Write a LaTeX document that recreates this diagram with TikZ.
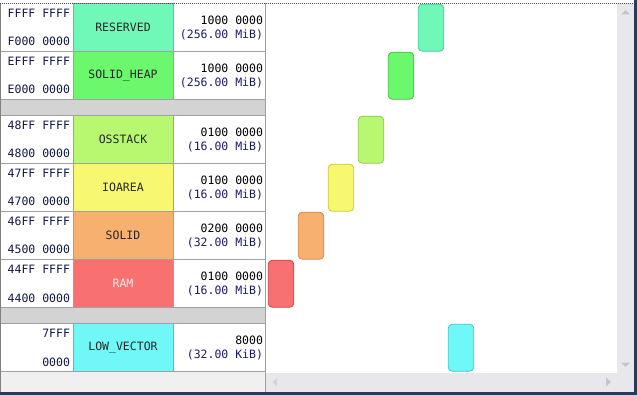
\documentclass[tikz,border=0pt]{standalone}
\usepackage{fontspec}
\setmonofont{DejaVu Sans Mono}
\definecolor{addrc}{HTML}{14184A}
\definecolor{sizec}{HTML}{1C1C66}
\definecolor{gridc}{HTML}{A0A0A0}
\definecolor{bandc}{HTML}{D3D3D3}
\definecolor{botc}{HTML}{F0F0F0}
\definecolor{sbc}{HTML}{E8E8EC}
\definecolor{arrc}{HTML}{C4C4CC}
\definecolor{arrd}{HTML}{D4D4DA}
\definecolor{navyc}{HTML}{2B3A5A}
\definecolor{resF}{HTML}{70F8B8}\definecolor{resD}{HTML}{48C890}
\definecolor{heapF}{HTML}{6CF86C}\definecolor{heapD}{HTML}{40C040}
\definecolor{ossF}{HTML}{B8F870}\definecolor{ossD}{HTML}{90C850}
\definecolor{ioF}{HTML}{F8F870}\definecolor{ioD}{HTML}{C8C840}
\definecolor{solF}{HTML}{F8B070}\definecolor{solD}{HTML}{D08848}
\definecolor{ramF}{HTML}{F87070}\definecolor{ramD}{HTML}{C84848}
\definecolor{lowF}{HTML}{70F8F8}\definecolor{lowD}{HTML}{40C8C8}
\begin{document}
\begin{tikzpicture}[x=1pt,y=-1pt,
  every node/.style={inner sep=0pt,outer sep=0pt,font=\fontsize{11.5}{12}\selectfont\ttfamily},
  addr/.style={anchor=base east,text=addrc},
  szone/.style={anchor=base east,text=black},
  sztwo/.style={anchor=base east,text=sizec},
  namecell/.style={minimum width=100pt,minimum height=48pt,line width=0.8pt,text=black!85},
  bar/.style={minimum width=25.5pt,minimum height=47pt,rounded corners=4pt,line width=0.8pt},
  grid/.style={draw=gridc,line width=0.8pt}
]
\useasboundingbox (0,0) rectangle (637,395);
\fill[white] (0,0) rectangle (637,395);
% bottom areas and scrollbars
\fill[botc] (0,372) rectangle (266,392);
\fill[sbc] (266,373) rectangle (634,392);
\fill[sbc] (617,3) rectangle (634,392);
% gray bands
\fill[bandc] (0,99.5) rectangle (265,115.5);
\fill[bandc] (0,307.5) rectangle (265,323.5);
% name cells
\node[namecell,fill=resF,draw=resD] (nres) at (123,27.5) {RESERVED};
\node[namecell,fill=heapF,draw=heapD] (nheap) at (123,75.5) {SOLID\_HEAP};
\node[namecell,fill=ossF,draw=ossD] (noss) at (123,139.5) {OSSTACK};
\node[namecell,fill=ioF,draw=ioD] (nio) at (123,187.5) {IOAREA};
\node[namecell,fill=solF,draw=solD] (nsol) at (123,235.5) {SOLID};
\node[namecell,fill=ramF,draw=ramD,text=white!92!red] (nram) at (123,283.5) {RAM};
\node[namecell,fill=lowF,draw=lowD] (nlow) at (123,347.5) {LOW\_VECTOR};
% grid lines
\foreach \yy in {51.5,99.5,115.5,163.5,211.5,259.5,307.5,323.5,371.5}
  \draw[grid] (0,\yy) -- (265,\yy);
\draw[grid] (73,3.5) -- (73,99.5) (73,115.5) -- (73,307.5) (73,323.5) -- (73,371.5);
\draw[grid] (173,3.5) -- (173,99.5) (173,115.5) -- (173,307.5) (173,323.5) -- (173,371.5);
\draw[grid] (265,3) -- (265,392);
\draw[draw=gray,line width=1pt] (0.5,3) -- (0.5,392);
% top focus dashed line
\draw[black!70,line width=0.8pt,dash pattern=on 1pt off 1pt] (0,3) -- (633,3);
% addresses
\node[addr] (a1t) at (70,17.5) {FFFF FFFF};
\node[addr] (a1b) at (70,46) {F000 0000};
\node[addr] (a2t) at (70,65.5) {EFFF FFFF};
\node[addr] (a2b) at (70,94) {E000 0000};
\node[addr] (a3t) at (70,129.5) {48FF FFFF};
\node[addr] (a3b) at (70,158) {4800 0000};
\node[addr] (a4t) at (70,177.5) {47FF FFFF};
\node[addr] (a4b) at (70,206) {4700 0000};
\node[addr] (a5t) at (70,225.5) {46FF FFFF};
\node[addr] (a5b) at (70,254) {4500 0000};
\node[addr] (a6t) at (70,273.5) {44FF FFFF};
\node[addr] (a6b) at (70,302) {4400 0000};
\node[addr] (a7t) at (70,337.5) {7FFF};
\node[addr] (a7b) at (70,366) {0000};
% sizes
\node[szone] (s1a) at (263,24.5) {1000 0000};
\node[sztwo] (s1b) at (263,38.5) {(256.00 MiB)};
\node[szone] (s2a) at (263,72.5) {1000 0000};
\node[sztwo] (s2b) at (263,86.5) {(256.00 MiB)};
\node[szone] (s3a) at (263,136.5) {0100 0000};
\node[sztwo] (s3b) at (263,150.5) {(16.00 MiB)};
\node[szone] (s4a) at (263,184.5) {0100 0000};
\node[sztwo] (s4b) at (263,198.5) {(16.00 MiB)};
\node[szone] (s5a) at (263,232.5) {0200 0000};
\node[sztwo] (s5b) at (263,246.5) {(32.00 MiB)};
\node[szone] (s6a) at (263,280.5) {0100 0000};
\node[sztwo] (s6b) at (263,294.5) {(16.00 MiB)};
\node[szone] (s7a) at (263,344.5) {8000};
\node[sztwo] (s7b) at (263,358.5) {(32.00 KiB)};
% bars
\node[bar,fill=resF,draw=resD] (bres) at (431,27.75) {};
\node[bar,fill=heapF,draw=heapD] (bheap) at (401,75.75) {};
\node[bar,fill=ossF,draw=ossD] (boss) at (371,139.75) {};
\node[bar,fill=ioF,draw=ioD] (bio) at (341,187.75) {};
\node[bar,fill=solF,draw=solD] (bsol) at (311,235.75) {};
\node[bar,fill=ramF,draw=ramD] (bram) at (281,283.75) {};
\node[bar,fill=lowF,draw=lowD] (blow) at (461,347.75) {};
% scroll arrows
\fill[arrc] (621,14.5) -- (630,14.5) -- (625.5,10) -- cycle;
\fill[arrc] (621,362.5) -- (630,362.5) -- (625.5,367) -- cycle;
\fill[arrc] (606,377.5) -- (606,386.5) -- (611,382) -- cycle;
\fill[arrd] (277,377.5) -- (277,386.5) -- (272.5,382) -- cycle;
% window border
\fill[navyc] (634,0) rectangle (637,395);
\fill[navyc] (0,392) rectangle (637,395);
\end{tikzpicture}
\end{document}
